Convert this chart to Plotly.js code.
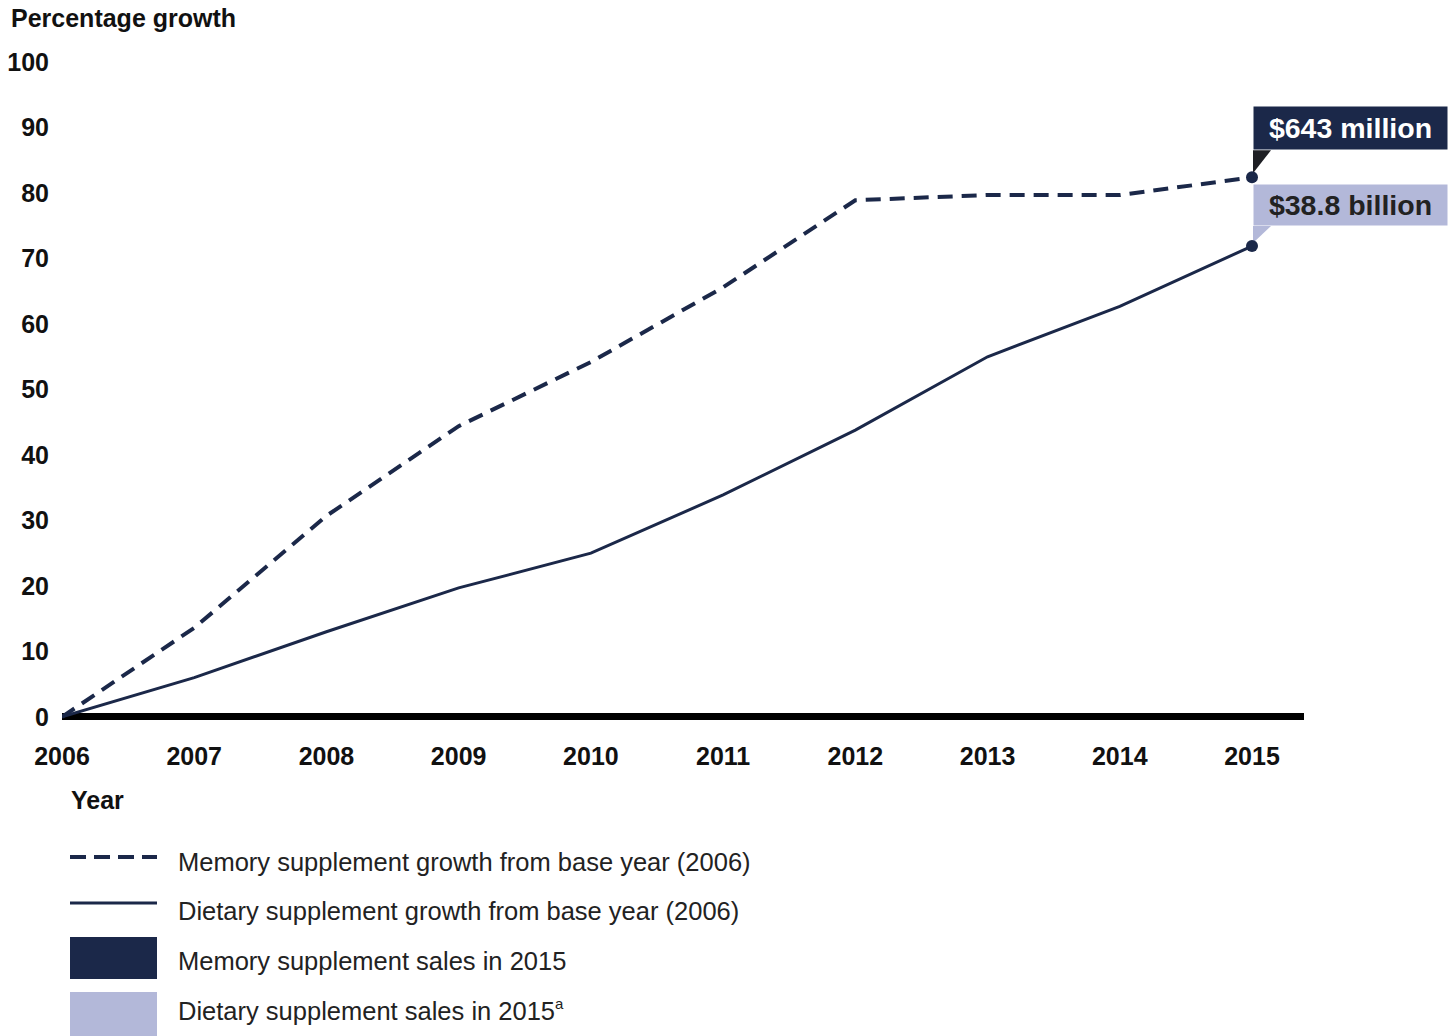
<!DOCTYPE html>
<html>
<head>
<meta charset="utf-8">
<script src="https://cdn.plot.ly/plotly-3.0.1.min.js"></script>
<style>html,body{margin:0;padding:0;background:#fff;}#chart{width:1452px;height:1036px;}</style>
</head>
<body>
<div id="chart"></div>
<script>
// ---- data ----
const years = [2006, 2007, 2008, 2009, 2010, 2011, 2012, 2013, 2014, 2015];
const memoryGrowth = [0, 13.6, 30.7, 44.4, 54.2, 65.6, 78.9, 79.7, 79.7, 82.4];
const dietaryGrowth = [0, 6.0, 13.0, 19.7, 25.0, 33.9, 43.8, 55.0, 62.7, 71.9];
const yTicks = [0, 10, 20, 30, 40, 50, 60, 70, 80, 90, 100];
const memorySalesLabel = "$643 million";
const dietarySalesLabel = "$38.8 billion";
const legendLabels = [
  "Memory supplement growth from base year (2006)",
  "Dietary supplement growth from base year (2006)",
  "Memory supplement sales in 2015",
  "Dietary supplement sales in 2015<sup><span style=\"font-size:15px\">a</span></sup>"
];

// ---- style ----
const NAVY = "#1b2849";
const LAVENDER = "#b3b8d9";
const FONT = "Liberation Sans, Arial, sans-serif";
const W = 1452, H = 1036;
const M = {l: 62, r: 148, t: 49, b: 306};
const PW = W - M.l - M.r, PH = H - M.t - M.b;
const px = x => (x - M.l) / PW;          // pixel -> paper x
const py = y => (H - M.b - y) / PH;      // pixel -> paper y

const lastIdx = years.length - 1;

const traces = [
  {x: years, y: memoryGrowth, type: "scatter", mode: "lines", name: legendLabels[0],
   line: {color: NAVY, width: 4, dash: "15px,9px"}, hoverinfo: "x+y"},
  {x: years, y: dietaryGrowth, type: "scatter", mode: "lines", name: legendLabels[1],
   line: {color: NAVY, width: 3}, hoverinfo: "x+y"},
  {x: [years[lastIdx], years[lastIdx]], y: [memoryGrowth[lastIdx], dietaryGrowth[lastIdx]],
   type: "scatter", mode: "markers", marker: {color: NAVY, size: 12}, hoverinfo: "skip",
   cliponaxis: false}
];

const shapes = [
  // callout pointers (pixel-sized, anchored to last points)
  {type: "path", xref: "x", yref: "y", xsizemode: "pixel", ysizemode: "pixel",
   xanchor: years[lastIdx], yanchor: memoryGrowth[lastIdx],
   path: "M 1,27 L 19,27 L 1,4 Z", fillcolor: "#1e1f24", line: {width: 0}, layer: "below"},
  {type: "path", xref: "x", yref: "y", xsizemode: "pixel", ysizemode: "pixel",
   xanchor: years[lastIdx], yanchor: dietaryGrowth[lastIdx],
   path: "M 1,20 L 19,20 L 1,3 Z", fillcolor: LAVENDER, line: {width: 0}, layer: "below"},
  // legend symbols
  {type: "line", xref: "paper", yref: "paper", x0: px(70), x1: px(157), y0: py(857), y1: py(857),
   line: {color: NAVY, width: 4, dash: "16px,8px"}},
  {type: "line", xref: "paper", yref: "paper", x0: px(70), x1: px(157), y0: py(903), y1: py(903),
   line: {color: NAVY, width: 3}},
  {type: "rect", xref: "paper", yref: "paper", x0: px(70), x1: px(157), y0: py(937), y1: py(979),
   fillcolor: NAVY, line: {width: 0}},
  {type: "rect", xref: "paper", yref: "paper", x0: px(70), x1: px(157), y0: py(992), y1: py(1036),
   fillcolor: LAVENDER, line: {width: 0}}
];

const legendY = [862, 911, 961, 1010];
const annotations = [
  {text: "<b>Percentage growth</b>", xref: "paper", yref: "paper", x: px(9), y: py(18),
   xanchor: "left", yanchor: "middle", showarrow: false, font: {family: FONT, size: 25, color: "#111"}},
  {text: "<b>Year</b>", xref: "paper", yref: "paper", x: px(69), y: py(800),
   xanchor: "left", yanchor: "middle", showarrow: false, font: {family: FONT, size: 25, color: "#111"}},
  {text: "<b>" + memorySalesLabel + "</b>", xref: "x", yref: "y", x: years[lastIdx], y: memoryGrowth[lastIdx],
   xanchor: "left", yanchor: "bottom", xshift: 1, yshift: 27, showarrow: false,
   bgcolor: NAVY, width: 193, height: 42, borderpad: 0, align: "center",
   font: {family: FONT, size: 28.5, color: "#ffffff"}},
  {text: "<b>" + dietarySalesLabel + "</b>", xref: "x", yref: "y", x: years[lastIdx], y: dietaryGrowth[lastIdx],
   xanchor: "left", yanchor: "bottom", xshift: 1, yshift: 20, showarrow: false,
   bgcolor: LAVENDER, width: 193, height: 40, borderpad: 0, align: "center",
   font: {family: FONT, size: 28.5, color: "#222"}}
];
legendLabels.forEach((t, i) => {
  annotations.push({text: t, xref: "paper", yref: "paper", x: px(176), y: py(legendY[i]),
    xanchor: "left", yanchor: "middle", showarrow: false,
    font: {family: FONT, size: 25.5, color: "#222"}});
});

const layout = {
  width: W, height: H,
  margin: M,
  paper_bgcolor: "#fff", plot_bgcolor: "#fff",
  showlegend: false,
  font: {family: FONT, color: "#111"},
  xaxis: {range: [2006, 2006 + (1304 - 62) / ((1252 - 62) / 9)], tickvals: years, ticktext: years.map(String),
    showgrid: false, zeroline: false, showline: false, ticks: "", ticklabelstandoff: 9,
    tickfont: {family: FONT, size: 25, color: "#111", weight: "bold"}},
  yaxis: {range: [-2, 102], tickvals: yTicks, showgrid: false, zeroline: true,
    zerolinecolor: "#000", zerolinewidth: 7, showline: false, ticks: "", ticklabelstandoff: 12,
    tickfont: {family: FONT, size: 25, color: "#111", weight: "bold"}},
  shapes: shapes,
  annotations: annotations
};

Plotly.newPlot("chart", traces, layout, {displayModeBar: false, staticPlot: true});
</script>
</body>
</html>
